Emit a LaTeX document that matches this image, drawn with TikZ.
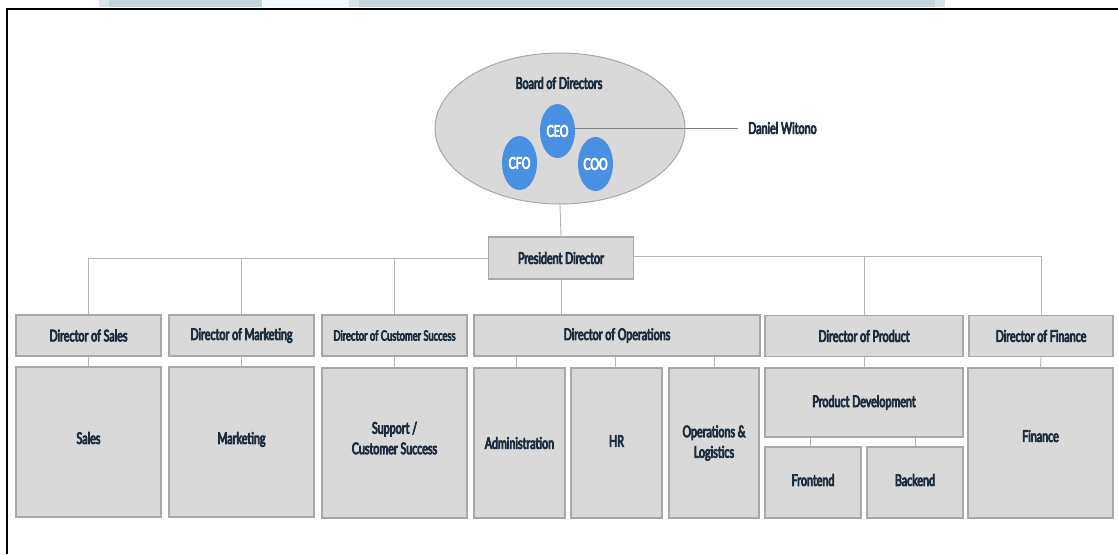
\documentclass[tikz,border=0pt]{standalone}
\usepackage{fontspec}
\newfontfamily\latoheavy{Lato}[FakeStretch=0.67, FakeBold=5]
\usetikzlibrary{shapes.geometric}
\definecolor{boxfill}{HTML}{D9D9D9}
\definecolor{boxline}{HTML}{A8A8A8}
\definecolor{connc}{HTML}{B5B5B5}
\definecolor{txt}{HTML}{1C2D3F}
\definecolor{execblue}{HTML}{4A90E2}
\definecolor{barblue}{HTML}{C3D5DC}
\definecolor{barlight}{HTML}{D6E3E7}
\definecolor{barpale}{HTML}{F3FAFD}
\definecolor{ceoline}{HTML}{808080}
\newcommand\orgfont{\latoheavy\fontsize{16}{20.5}\selectfont}
\newcommand\orgfontsmall{\latoheavy\fontsize{14}{18}\selectfont}
\tikzset{
  box/.style={rectangle, draw=boxline, fill=boxfill, line width=1.3pt, inner sep=0pt, align=center, text=txt, font=\orgfont},
  conn/.style={draw=connc, line width=0.9pt},
  exec/.style={ellipse, fill=execblue, inner sep=0pt, minimum width=35pt, minimum height=54pt, text=white, font=\orgfont},
  plain/.style={text=txt, font=\orgfont, inner sep=0pt},
}
\begin{document}
\begin{tikzpicture}[x=1pt,y=-1pt]
\useasboundingbox (0,0) rectangle (1118,554);
% top strip and frame
\fill[barpale] (262,0) rectangle (349,7);
\fill[barblue] (99,0) rectangle (262,7);
\fill[barblue] (349,0) rectangle (945,7);
\fill[barlight] (99,0) rectangle (109,7);
\fill[barlight] (349,0) rectangle (359,7);
\fill[barlight] (935,0) rectangle (945,7);
\draw[black, line width=2.5pt] (1118,9) -- (7,9) -- (7,554);

% board
\node[ellipse, draw=boxline, fill=boxfill, line width=1pt, minimum width=250pt, minimum height=151pt, inner sep=0pt] (board) at (560,128.5) {};
\node[plain] (bod) at (559,83) {Board of Directors};
\node[exec] (ceo) at (557.5,131) {CEO};
\node[exec] (cfo) at (519.5,163) {CFO};
\node[exec] (coo) at (595.5,164) {COO};
\node[plain, anchor=west, inner xsep=10pt] (dan) at (738,128) {Daniel Witono};
\draw[draw=ceoline, line width=0.9pt] (ceo.east |- dan.west) -- (dan.west);

% president
\node[box, minimum width=145pt, minimum height=42pt] (pres) at (561,258) {President Director};
\coordinate (rbranch) at ([yshift=2pt]pres.east);

% directors
\node[box, minimum width=145pt, minimum height=41pt] (dsales) at (88.5,335.5) {Director of Sales};
\node[box, minimum width=145pt, minimum height=41pt] (dmkt) at (241.5,335.5) {Director of Marketing};
\node[box, minimum width=145pt, minimum height=41pt, font=\orgfontsmall] (dcs) at (394.5,335.5) {Director of Customer Success};
\node[box, minimum width=286pt, minimum height=41pt] (dops) at (617,335.5) {Director of Operations};
\node[box, minimum width=198pt, minimum height=41pt] (dprod) at (864,336) {Director of Product};
\node[box, minimum width=144pt, minimum height=41pt] (dfin) at (1041,336) {Director of Finance};

% departments
\node[box, minimum width=145pt, minimum height=150pt, text depth=8pt] (sales) at (88.5,442) {Sales};
\node[box, minimum width=145pt, minimum height=150pt, text depth=8pt] (mkt) at (241.5,442) {Marketing};
\node[box, minimum width=145pt, minimum height=150pt, text depth=10pt] (sup) at (394.5,443) {Support /\\Customer Success};
\node[box, minimum width=91pt, minimum height=150pt] (admin) at (519.5,443) {Administration};
\node[box, minimum width=91pt, minimum height=150pt, text depth=4pt] (hr) at (616.5,443) {HR};
\node[box, minimum width=90pt, minimum height=150pt] (opslog) at (714,443) {Operations \&\\Logistics};
\node[box, minimum width=198pt, minimum height=69pt] (pd) at (864,402.5) {Product Development};
\node[box, minimum width=96pt, minimum height=71pt, text depth=5pt] (fe) at (813,482.5) {Frontend};
\node[box, minimum width=96pt, minimum height=71pt, text depth=5pt] (be) at (915,482.5) {Backend};
\node[box, minimum width=145pt, minimum height=150pt, text depth=14pt] (fin) at (1040.5,443) {Finance};

% connectors
\draw[conn] (board.south) -- (pres.north);
\draw[conn] (pres.west) -| (dsales.north);
\draw[conn] (dmkt.north) -- (dmkt.north |- pres.west);
\draw[conn] (dcs.north) -- (dcs.north |- pres.west);
\draw[conn] (rbranch) -| (dfin.north);
\draw[conn] (dprod.north) -- (dprod.north |- rbranch);
\draw[conn] (pres.south) -- (pres.south |- dops.north);
\draw[conn] (dsales.south) -- (sales.north);
\draw[conn] (dmkt.south) -- (mkt.north);
\draw[conn] (dcs.south) -- (sup.north);
\draw[conn] ([xshift=-3pt]admin.north |- dops.south) -- ([xshift=-3pt]admin.north);
\draw[conn] ([xshift=-1pt]hr.north |- dops.south) -- ([xshift=-1pt]hr.north);
\draw[conn] (opslog.north |- dops.south) -- (opslog.north);
\draw[conn] (dprod.south) -- (pd.north);
\draw[conn] ([xshift=-3pt]fe.north |- pd.south) -- ([xshift=-3pt]fe.north);
\draw[conn] (be.north |- pd.south) -- (be.north);
\draw[conn] (dfin.south) -- (fin.north);
\end{tikzpicture}
\end{document}
